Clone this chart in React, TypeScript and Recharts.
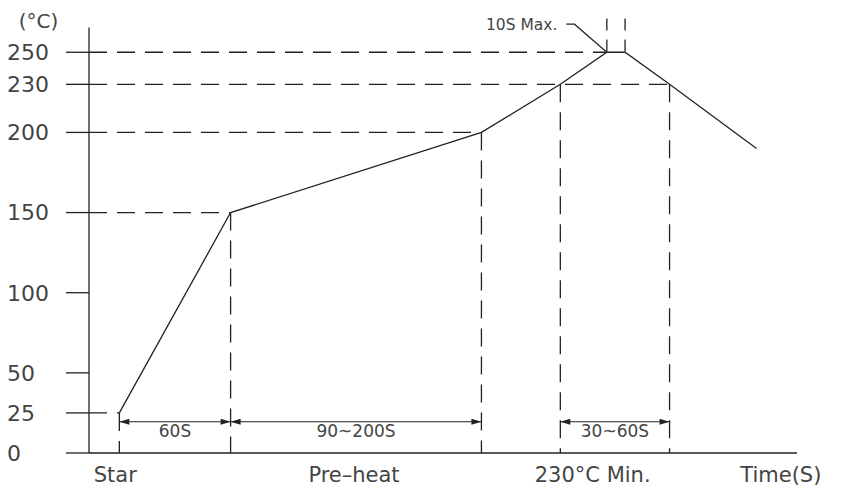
import {
    ComposedChart,
    Line,
    XAxis,
    YAxis,
    ReferenceLine,
    ReferenceDot,
} from "recharts";

// temperature ticks (°C)
const yTicks = [0, 25, 50, 100, 150, 200, 230, 250];

// reflow profile (time in s, temp in °C)
const profileTime = [15, 70, 194, 233, 256, 265, 287, 330];
const profileTemp = [25, 150, 200, 230, 250, 250, 230, 190];

// labels under the time axis
const xLabelTimes = [13, 131, 249, 342];
const xLabels = ["Star", "Pre–heat", "230°C Min.", "Time(S)"];

// dashed guides
const hGuideTemp = [25, 150, 200, 230, 250];
const hGuideEnd = [15, 70, 194, 287, 256];
const vGuideTime = [15, 70, 194, 233, 287];
const vGuideTop = [25, 150, 200, 230, 230];

// dimension arrows
const dimStart = [15, 70, 233];
const dimEnd = [70, 194, 287];
const dimLabels = ["60S", "90~200S", "30~60S"];
const dimTemp = 19.5;

// peak note
const peakTimes = [256, 265];
const peakMarkTop = 271;
const leaderTime = [236, 240, 256];
const leaderTemp = [267.5, 267.5, 250];
const peakNote = "10S Max.";

const axisTop = 265.5;
const INK = "#222";
const TEXT = "#444";

const profileData = profileTime.map((t, i) => ({ t, v: profileTemp[i] }));
const leaderData = leaderTime.map((t, i) => ({ t, v: leaderTemp[i] }));

const ArrowHead = (props: any) => {
    const { cx, cy, index } = props;
    if (cx == null || cy == null) return null;
    const d = index === 0 ? -1 : 1;
    const pts = `${cx},${cy} ${cx - d * 10},${cy - 3} ${cx - d * 10},${cy + 3}`;
    return <polygon key={`a-${index}`} points={pts} fill={INK} stroke="none" />;
};

// y labels sit flush left, like the drawing
const YTick = (props: any) => {
    const { y, payload } = props;
    return (
        <text x={7} y={y} dy="0.355em" textAnchor="start" fontSize={22} fill={TEXT}>
            {payload.value}
        </text>
    );
};

export default function App() {
    return (
        <div
            style={{
                position: "absolute",
                left: 0,
                top: 0,
                width: 867,
                height: 491,
                background: "#fff",
                fontFamily: "DejaVu Sans",
            }}
        >
            <ComposedChart
                width={867}
                height={491}
                margin={{ top: 17, right: 70, bottom: 0, left: 0 }}
            >
                <XAxis
                    type="number"
                    dataKey="t"
                    domain={[0, 350]}
                    ticks={xLabelTimes}
                    interval={0}
                    tickLine={false}
                    tickSize={0}
                    tickMargin={14}
                    height={38}
                    axisLine={{ stroke: INK, strokeWidth: 1.3 }}
                    tick={{ fontSize: 21, fill: TEXT }}
                    tickFormatter={(v: number) => xLabels[xLabelTimes.indexOf(v)] ?? ""}
                />
                <YAxis
                    type="number"
                    domain={[0, 272]}
                    ticks={yTicks}
                    interval={0}
                    width={89}
                    tickSize={23}
                    tickMargin={16}
                    axisLine={false}
                    tickLine={{ stroke: INK, strokeWidth: 1.3 }}
                    tick={<YTick />}
                    label={{
                        value: "(°C)",
                        position: "insideTop",
                        offset: -3,
                        dx: -6,
                        fontSize: 20,
                        fill: TEXT,
                    }}
                />

                {/* y axis line */}
                <ReferenceLine
                    segment={[{ x: 0, y: 0 }, { x: 0, y: axisTop }]}
                    stroke={INK}
                    strokeWidth={1.3}
                />

                {hGuideTemp.map((temp, i) => (
                    <ReferenceLine
                        key={`h${i}`}
                        segment={[{ x: 0, y: temp }, { x: hGuideEnd[i], y: temp }]}
                        stroke={INK}
                        strokeWidth={1.3}
                        strokeDasharray="18 10"
                    />
                ))}
                {vGuideTime.map((t, i) => (
                    <ReferenceLine
                        key={`v${i}`}
                        segment={[{ x: t, y: vGuideTop[i] }, { x: t, y: 0 }]}
                        stroke={INK}
                        strokeWidth={1.3}
                        strokeDasharray="18 10"
                    />
                ))}
                {peakTimes.map((t, i) => (
                    <ReferenceLine
                        key={`p${i}`}
                        segment={[{ x: t, y: peakMarkTop }, { x: t, y: 250 }]}
                        stroke={INK}
                        strokeWidth={1.3}
                        strokeDasharray="12 9"
                    />
                ))}

                {dimStart.map((s, i) => (
                    <Line
                        key={`d${i}`}
                        data={[
                            { t: s, v: dimTemp },
                            { t: dimEnd[i], v: dimTemp },
                        ]}
                        dataKey="v"
                        type="linear"
                        stroke={INK}
                        strokeWidth={1.2}
                        dot={<ArrowHead />}
                        activeDot={false}
                        isAnimationActive={false}
                    />
                ))}
                {dimStart.map((s, i) => (
                    <ReferenceDot
                        key={`dl${i}`}
                        x={(s + dimEnd[i]) / 2}
                        y={dimTemp}
                        r={0}
                        fill="none"
                        stroke="none"
                        label={{
                            value: dimLabels[i],
                            position: "bottom",
                            offset: 3,
                            fontSize: 17,
                            fill: TEXT,
                        }}
                    />
                ))}

                <Line
                    data={leaderData}
                    dataKey="v"
                    type="linear"
                    stroke={INK}
                    strokeWidth={1.2}
                    dot={false}
                    activeDot={false}
                    isAnimationActive={false}
                />
                <ReferenceDot
                    x={leaderTime[0]}
                    y={leaderTemp[0]}
                    r={0}
                    fill="none"
                    stroke="none"
                    label={{
                        value: peakNote,
                        position: "left",
                        offset: 9,
                        fontSize: 15.5,
                        fill: TEXT,
                    }}
                />

                <Line
                    data={profileData}
                    dataKey="v"
                    type="linear"
                    stroke={INK}
                    strokeWidth={1.3}
                    dot={false}
                    activeDot={false}
                    isAnimationActive={false}
                />
            </ComposedChart>
        </div>
    );
}
